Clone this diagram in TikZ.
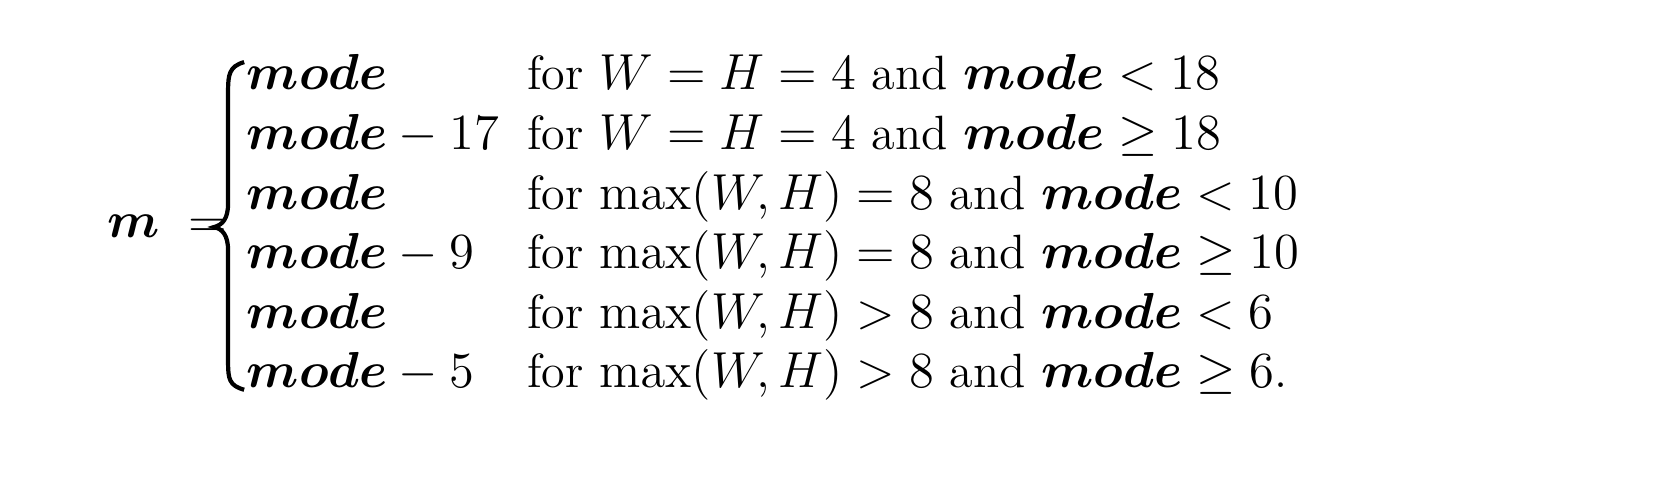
\documentclass[tikz,border=0pt]{standalone}
\usepackage{amsmath,bm}
\begin{document}
\begin{tikzpicture}[x=0.01071cm,y=-0.01071cm,
  txt/.style={anchor=base west,inner sep=0pt,font=\fontsize{13.7}{16}\selectfont}]
\useasboundingbox (0,0) rectangle (1568,467);
\node[txt] (m) at (100,222) {$\bm{m}\; =$};
\draw[line width=1.2pt] (228,58) .. controls (214,62) and (213,70) .. (213,85)
  -- (213,190) .. controls (213,204) and (208,210) .. (200,212)
  .. controls (208,214) and (213,220) .. (213,234)
  -- (213,338) .. controls (213,354) and (214,360) .. (228,364);
\foreach \i/\a/\b in {
 1/{$\bm{mode}$}/{for $W = H = 4$ and $\bm{mode} < 18$},
 2/{$\bm{mode} - 17$}/{for $W = H = 4$ and $\bm{mode} \geq 18$},
 3/{$\bm{mode}$}/{for $\max(W,H) = 8$ and $\bm{mode} < 10$},
 4/{$\bm{mode} - 9$}/{for $\max(W,H) = 8$ and $\bm{mode} \geq 10$},
 5/{$\bm{mode}$}/{for $\max(W,H) > 8$ and $\bm{mode} < 6$},
 6/{$\bm{mode} - 5$}/{for $\max(W,H) > 8$ and $\bm{mode} \geq 6$.}}
{
 \node[txt] (a\i) at (230,{84+(\i-1)*55.6}) {\a};
 \node[txt] (b\i) at (492,{84+(\i-1)*55.6}) {\b};
}
\end{tikzpicture}
\end{document}
